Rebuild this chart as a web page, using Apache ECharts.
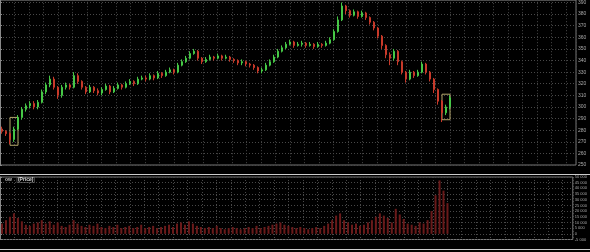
<!DOCTYPE html>
<html><head><meta charset="utf-8">
<script src="https://cdn.jsdelivr.net/npm/echarts@6/dist/echarts.min.js"></script>
<style>html,body{margin:0;padding:0;background:#000;}#c{width:590px;height:252px;}</style>
</head><body><div id="c"></div>
<script>
// Category slots (113 sessions with data + empty room at right edge)
const categories = Array.from({length: 144}, (_, i) => String(i));
const opens  = [281,279,277,272,281,291,298,301,303,300,304,313,319,324,317,310,317,319,317,327,322,317,313,317,314,312,315,318,313,316,319,317,320,322,320,324,325,324,327,325,329,327,330,332,330,336,339,342,346,348,342,339,341,343,342,344,342,343,341,340,338,339,337,336,334,331,332,336,339,343,348,351,354,356,353,354,355,353,354,352,354,353,355,358,365,375,387,383,379,382,378,381,377,373,368,361,353,345,342,348,339,330,324,330,327,330,337,330,324,315,305,295,300];
const closes = [279,277,272,281,291,298,301,303,300,304,313,319,324,317,310,317,319,317,327,322,317,313,317,314,312,315,318,313,316,319,317,320,322,320,324,325,324,327,325,329,327,330,332,330,336,339,342,346,348,342,339,341,343,342,344,342,343,341,340,338,339,337,336,334,331,332,336,339,343,348,351,354,356,353,354,355,353,354,352,354,353,355,358,365,375,387,383,379,382,378,381,377,373,368,361,353,345,342,348,339,330,324,330,327,330,337,330,324,315,305,295,300,308];
const lows   = [277,275,268,270,280,289,296,299,298,298,303,311,317,315,307,308,315,315,316,320,315,311,312,312,310,310,314,311,312,315,315,316,319,318,319,323,322,323,323,324,325,326,329,328,329,335,338,341,345,340,337,338,340,340,341,340,341,339,338,336,336,335,334,332,329,329,331,335,338,342,347,350,353,351,352,352,351,352,350,351,351,352,354,357,364,374,380,377,378,376,377,375,371,366,359,350,342,336,340,336,328,321,323,325,326,329,328,322,312,302,287,293,298];
const highs  = [283,280,278,283,293,300,303,305,305,306,315,321,327,326,318,319,321,320,330,329,323,318,319,318,316,317,320,319,318,321,320,322,324,323,326,327,327,329,328,331,330,332,334,333,338,341,344,348,350,349,343,343,345,344,346,345,345,344,342,341,341,340,338,337,335,334,338,341,345,350,353,356,358,357,356,357,356,356,355,356,355,357,360,367,378,390,388,384,384,383,383,382,378,374,369,362,354,347,350,349,340,331,332,331,332,339,338,331,325,316,306,302,310];
const volumes = [9000,12000,15000,18000,14000,11000,8000,7000,9000,10000,12000,9000,11000,8000,10000,7000,6000,8000,12000,9000,7000,6000,8000,7000,9000,6000,5000,7000,6000,8000,5000,6000,7000,5000,6000,8000,5000,6000,7000,5000,6000,7000,8000,6000,9000,10000,8000,11000,9000,7000,6000,5000,6000,5000,7000,5000,4000,5000,6000,5000,4000,5000,6000,5000,7000,5000,6000,7000,8000,9000,10000,8000,7000,6000,5000,6000,5000,4000,5000,6000,5000,7000,9000,12000,16000,18000,12000,10000,8000,9000,7000,8000,10000,12000,15000,18000,16000,14000,10000,22000,17000,13000,9000,8000,7000,10000,9000,12000,20000,34000,47000,38000,27000];
const lastPriceLabel = '308.0';
const priceTitle = 'ow';
const priceTag = '(Price)';
const volTag = '(Volume)';

const ohlc = opens.map((o, i) => [o, closes[i], lows[i], highs[i]]);

const chart = echarts.init(document.getElementById('c'), null, {renderer: 'canvas'});
const gridLine = {show: true, lineStyle: {color: '#484848', type: [1, 2], width: 1}};
const fmtVol = v => {
  const s = Math.abs(v).toString().replace(/\B(?=(\d{3})+(?!\d))/g, ' ');
  return (v < 0 ? '-' : '') + s;
};
const hiddenX = (g) => ({type: 'value', gridIndex: g, min: 0, max: 39.7, interval: 1,
  axisLine: {show: false}, axisTick: {show: false}, axisLabel: {show: false}, splitLine: gridLine});
chart.setOption({
  backgroundColor: '#000',
  animation: false,
  title: [
    {left: 0, top: 166, text: '{a|' + priceTitle + '} {b|' + priceTag + '}',
     textStyle: {rich: {a: {color: '#bbb', fontSize: 5, fontFamily: 'Liberation Sans'},
                        b: {color: '#ddd', fontSize: 5, fontFamily: 'Liberation Sans', borderColor: '#888', borderWidth: 0.5, padding: [0, 1]}}}},
    {left: 0, top: 243, text: '{a|' + priceTitle + '} {b|' + volTag + '}',
     textStyle: {rich: {a: {color: '#bbb', fontSize: 5, fontFamily: 'Liberation Sans'},
                        b: {color: '#ddd', fontSize: 5, fontFamily: 'Liberation Sans', borderColor: '#888', borderWidth: 0.5, padding: [0, 1]}}}}
  ],
  grid: [
    {left: 0, top: 0, width: 576, height: 165, show: true, borderColor: '#777', borderWidth: 1, backgroundColor: 'transparent'},
    {left: 0, top: 177, width: 576, height: 62.5, show: true, borderColor: '#777', borderWidth: 1, backgroundColor: 'transparent'}
  ],
  xAxis: [
    {type: 'category', gridIndex: 0, data: categories, boundaryGap: true,
     axisLine: {show: false}, axisTick: {show: false}, axisLabel: {show: false}, splitLine: {show: false}},
    {type: 'category', gridIndex: 1, data: categories, boundaryGap: true,
     axisLine: {show: false}, axisTick: {show: false}, axisLabel: {show: false}, splitLine: {show: false}},
    hiddenX(0), hiddenX(1)
  ],
  yAxis: [
    {type: 'value', gridIndex: 0, position: 'right', min: 250, max: 392, interval: 10,
     axisLine: {show: true, lineStyle: {color: '#888'}}, axisTick: {show: true, length: 2, lineStyle: {color: '#888'}},
     axisLabel: {color: '#aaa', fontSize: 5, margin: 2, fontFamily: 'Liberation Sans'},
     splitLine: gridLine},
    {type: 'value', gridIndex: 1, position: 'right', min: -5000, max: 50000, interval: 5000,
     axisLine: {show: true, lineStyle: {color: '#888'}}, axisTick: {show: true, length: 2, lineStyle: {color: '#888'}},
     axisLabel: {color: '#aaa', fontSize: 4, margin: 2, fontFamily: 'Liberation Sans', formatter: fmtVol},
     splitLine: gridLine}
  ],
  graphic: [
    {type: 'line', shape: {x1: 0, y1: 174.5, x2: 590, y2: 174.5}, style: {stroke: '#ccc', lineWidth: 1}},
    {type: 'line', shape: {x1: 0, y1: 249.5, x2: 590, y2: 249.5}, style: {stroke: '#ccc', lineWidth: 1}}
  ],
  series: [
    {type: 'candlestick', xAxisIndex: 0, yAxisIndex: 0, data: ohlc, barWidth: 2,
     itemStyle: {color: '#46c846', color0: '#c83a2a', borderColor: '#46c846', borderColor0: '#c83a2a', borderWidth: 1},
     markArea: {silent: true, itemStyle: {color: 'transparent', borderColor: '#b3a66a', borderWidth: 1},
       data: [
         [{xAxis: '2', yAxis: 291}, {xAxis: '4', yAxis: 267}],
         [{xAxis: '110', yAxis: 311}, {xAxis: '112', yAxis: 289}]
       ]},
     markLine: {silent: true, symbol: 'none', lineStyle: {opacity: 0},
       label: {position: 'end', color: '#fff', backgroundColor: '#7a1414', fontSize: 5, padding: [1, 2], formatter: lastPriceLabel, distance: 1},
       data: [{yAxis: closes[closes.length - 1]}]}
    },
    {type: 'bar', xAxisIndex: 1, yAxisIndex: 1, data: volumes, barWidth: 2,
     itemStyle: {color: '#6a1a1a'},
     markLine: {silent: true, symbol: 'none', lineStyle: {opacity: 0},
       label: {position: 'end', color: '#fff', backgroundColor: '#7a1414', fontSize: 4, padding: [1, 2], formatter: fmtVol(volumes[volumes.length - 1]), distance: 1},
       data: [{yAxis: 0}]}
    }
  ]
});
</script></body></html>
